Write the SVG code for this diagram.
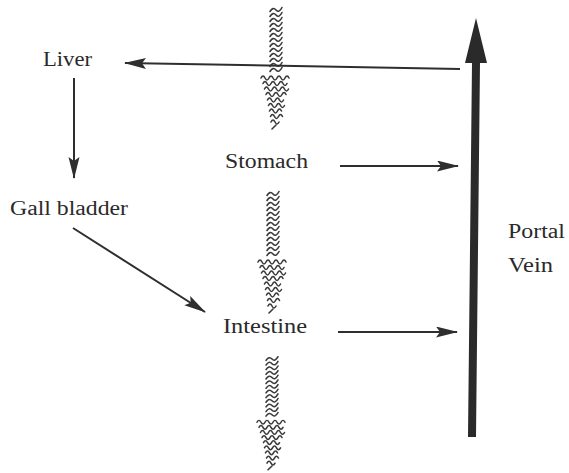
<svg xmlns="http://www.w3.org/2000/svg" xmlns:xlink="http://www.w3.org/1999/xlink" width="569" height="473" viewBox="0 0 569 473">
<style>
.lbl{font-family:"Liberation Serif","DejaVu Serif",serif;font-size:20px;fill:#2a2a2a}
.conn{stroke:#2e2e2e;stroke-width:2;fill:none}
.wv{stroke:#3a3a3a;stroke-width:1.6;fill:none;stroke-linecap:round}
</style>
<defs>
<marker id="ah" markerUnits="userSpaceOnUse" markerWidth="22" markerHeight="12" refX="21" refY="5.5" orient="auto">
<path d="M0,0 L22,5.5 L0,11 L4,5.5 z" fill="#2e2e2e"/>
</marker>
<path id="sq" d="M-6,1.5 q3,-5 6,-1.5 t6,-2.5"/>
<g id="wavy" class="wv">
<use xlink:href="#sq" y="0"/><use xlink:href="#sq" y="5"/><use xlink:href="#sq" y="10"/><use xlink:href="#sq" y="15"/><use xlink:href="#sq" y="20"/><use xlink:href="#sq" y="25"/><use xlink:href="#sq" y="30"/><use xlink:href="#sq" y="35"/><use xlink:href="#sq" y="40"/><use xlink:href="#sq" y="45"/><use xlink:href="#sq" y="50"/><use xlink:href="#sq" y="55"/><use xlink:href="#sq" y="60"/>
<path d="M-15,68 q2,-4 4,0 t4,0 t4,0 t4,0 t4,0 t4,0 t4,0"/>
<path d="M-13,73.5 q2,-4 4,0 t4,0 t4,0 t4,0 t4,0 t4,0"/>
<path d="M-11.5,79 q2,-4 4,0 t4,0 t4,0 t4,0 t4,0 t4,0"/>
<path d="M-10,84.5 q2,-4 4,0 t4,0 t4,0 t4,0 t4,0"/>
<path d="M-8.5,90 q2,-4 4,0 t4,0 t4,0 t4,0"/>
<path d="M-7.5,95.5 q2,-4 4,0 t4,0 t4,0 t4,0"/>
<path d="M-6.5,101 q2,-4 4,0 t4,0 t4,0"/>
<path d="M-5.5,106.5 q2,-4 4,0 t4,0 t4,0"/>
<path d="M-5,112 q2,-4 4,0 t4,0"/>
<path d="M-4,119 l4,-4"/>
</g>
</defs>
<rect width="569" height="473" fill="#ffffff"/>

<g id="food-flow">
<use xlink:href="#wavy" transform="translate(276,10)"/>
<use xlink:href="#wavy" transform="translate(273,194)"/>
<use xlink:href="#wavy" transform="translate(272,359) scale(1,0.93)"/>
</g>

<g id="connectors">
<line class="conn" x1="460" y1="69" x2="125" y2="63" marker-end="url(#ah)"/>
<line class="conn" x1="74" y1="78" x2="74" y2="178" marker-end="url(#ah)"/>
<line class="conn" x1="73" y1="228" x2="205" y2="312" marker-end="url(#ah)"/>
<line class="conn" x1="340" y1="166" x2="458" y2="166" marker-end="url(#ah)"/>
<line class="conn" x1="338" y1="332" x2="457" y2="332" marker-end="url(#ah)"/>
<polygon id="portal-arrow" points="476,18 487,63 480,63 476,437 468,437 472,63 465,63" fill="#2a2a2a"/>
</g>

<g id="liver"><text class="lbl" x="43" y="66" textLength="49" lengthAdjust="spacingAndGlyphs">Liver</text></g>
<g id="gall-bladder"><text class="lbl" x="10" y="215" textLength="118" lengthAdjust="spacingAndGlyphs">Gall bladder</text></g>
<g id="stomach"><text class="lbl" x="225" y="168" textLength="83" lengthAdjust="spacingAndGlyphs">Stomach</text></g>
<g id="intestine"><text class="lbl" x="223" y="333" textLength="84" lengthAdjust="spacingAndGlyphs">Intestine</text></g>
<g id="portal-vein">
<text class="lbl" x="508" y="238" textLength="57" lengthAdjust="spacingAndGlyphs">Portal</text>
<text class="lbl" x="508" y="272" textLength="45" lengthAdjust="spacingAndGlyphs">Vein</text>
</g>
</svg>
